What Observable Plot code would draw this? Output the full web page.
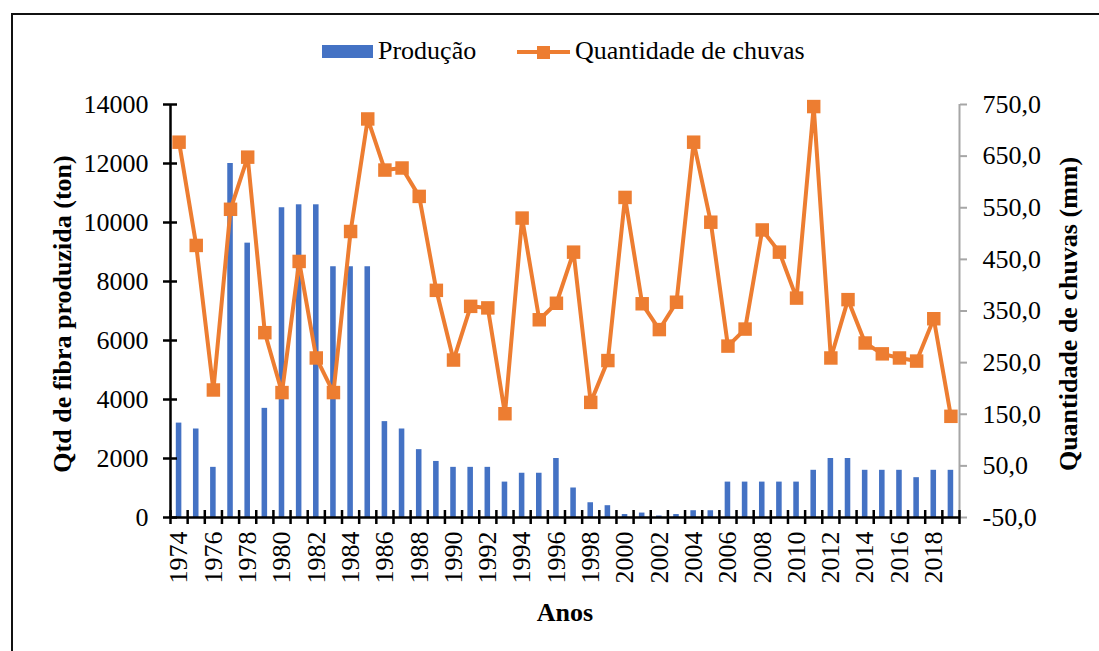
<!DOCTYPE html>
<html>
<head>
<meta charset="utf-8">
<script src="https://cdn.jsdelivr.net/npm/d3@7"></script>
<script src="https://cdn.jsdelivr.net/npm/@observablehq/plot@0.6"></script>
<style>
  html, body { margin: 0; padding: 0; background: #fff; overflow: hidden; }
  #wrap { position: relative; width: 1099px; height: 651px; font-family: "Liberation Serif", "Times New Roman", serif; }
  #frame { position: absolute; left: 11px; top: 13px; width: 1200px; height: 700px; border: 2px solid #111; box-sizing: border-box; }
  #chart { position: absolute; left: 0; top: 0; }
  #chart svg, #chart svg text { font-family: "Liberation Serif", "Times New Roman", serif !important; }
  .leg { position: absolute; font-size: 26px; line-height: 1; color: #000; white-space: nowrap; }
</style>
</head>
<body>
<div id="wrap">
  <div id="frame"></div>
  <div id="chart"></div>
  <div id="legend"></div>
</div>
<script>
const years = [1974,1975,1976,1977,1978,1979,1980,1981,1982,1983,1984,1985,1986,1987,1988,1989,1990,1991,1992,1993,1994,1995,1996,1997,1998,1999,2000,2001,2002,2003,2004,2005,2006,2007,2008,2009,2010,2011,2012,2013,2014,2015,2016,2017,2018,2019];
const producao = [3200,3000,1700,12000,9300,3700,10500,10600,10600,8500,8500,8500,3250,3000,2300,1900,1700,1700,1700,1200,1500,1500,2000,1000,500,400,100,150,50,100,230,230,1200,1200,1200,1200,1200,1600,2000,2000,1600,1600,1600,1350,1600,1600];
const chuvas = [677,477,197,547,648,308,192,446,259,192,504,722,623,627,572,390,255,359,356,151,530,333,365,464,173,254,570,364,314,367,677,522,282,315,507,464,375,746,259,372,288,267,259,253,335,146];
const yearLabels = [1974,1976,1978,1980,1982,1984,1986,1988,1990,1992,1994,1996,1998,2000,2002,2004,2006,2008,2010,2012,2014,2016,2018];
const prodTicks = [0,2000,4000,6000,8000,10000,12000,14000];
const rainTicks = [-50,50,150,250,350,450,550,650,750];
const prodDomain = [0, 14000];
const rainDomain = [-50, 750];
const seriesNames = ["Produção", "Quantidade de chuvas"];
const titles = {left: "Qtd de fibra produzida (ton)", right: "Quantidade de chuvas (mm)", x: "Anos"};

const blue = "#4472C4", orange = "#ED7D31";
const serif = '"Liberation Serif", "Times New Roman", serif';
const rainToProd = r => (r - rainDomain[0]) / (rainDomain[1] - rainDomain[0]) * (prodDomain[1] - prodDomain[0]) + prodDomain[0];
const prodToRain = v => (v - prodDomain[0]) / (prodDomain[1] - prodDomain[0]) * (rainDomain[1] - rainDomain[0]) + rainDomain[0];
const data = years.map((year, i) => ({year, producao: producao[i], chuva: chuvas[i]}));
const xStart = years[0] - 0.5, xEnd = years[years.length - 1] + 0.5;
const boundaries = years.map(y => y - 0.5).concat([xEnd]);
const fmtRain = v => v.toFixed(1).replace(".", ",");

const chart = Plot.plot({
  width: 1099,
  height: 651,
  marginLeft: 170,
  marginRight: 140,
  marginTop: 104,
  marginBottom: 134,
  style: {fontFamily: serif, fontSize: "26px", background: "transparent", color: "#000"},
  x: {type: "linear", domain: [xStart, xEnd], axis: null},
  y: {type: "linear", domain: prodDomain, axis: null},
  marks: [
    Plot.rectY(data, {x1: d => d.year - 0.5, x2: d => d.year + 0.5, y1: 0, y2: "producao", fill: blue, insetLeft: 5.8, insetRight: 5.8}),
    // left axis
    Plot.ruleX([xStart], {stroke: "#000", strokeWidth: 2.5, y1: prodDomain[0], y2: prodDomain[1]}),
    Plot.ruleY(prodTicks, {y: d => d, x1: xStart, x2: xStart, insetLeft: -7, insetRight: -7, stroke: "#000", strokeWidth: 2.5}),
    Plot.axisY(prodTicks, {anchor: "left", label: null, tickSize: 0, tickPadding: 22, fontSize: 26, fontFamily: serif, fill: "#000", tickFormat: d => String(d)}),
    // right axis
    Plot.ruleX([xEnd], {stroke: "#a6a6a6", strokeWidth: 2, y1: prodDomain[0], y2: prodDomain[1]}),
    Plot.axisY(rainTicks.map(rainToProd), {anchor: "right", label: null, tickSize: 7, tickPadding: 16, stroke: "#a6a6a6", strokeWidth: 2, fill: "#000", fontSize: 26, fontFamily: serif, tickFormat: v => fmtRain(prodToRain(v))}),
    // x axis
    Plot.ruleY([0], {stroke: "#000", strokeWidth: 2.5, x1: xStart, x2: xEnd}),
    Plot.ruleX(boundaries, {x: d => d, y1: 0, y2: 0, insetTop: -7, insetBottom: -7, stroke: "#000", strokeWidth: 2.5}),
    Plot.text(yearLabels, {x: d => d, y: 0, text: d => String(d), rotate: -90, textAnchor: "end", lineAnchor: "middle", dy: 14, fontSize: 26, fontFamily: serif, fill: "#000"}),
    // rainfall series
    Plot.line(data, {x: "year", y: d => rainToProd(d.chuva), stroke: orange, strokeWidth: 4}),
    Plot.dot(data, {x: "year", y: d => rainToProd(d.chuva), symbol: "square", r: 7.6, fill: orange, stroke: "none"}),
    // titles
    Plot.text([titles.left], {frameAnchor: "left", text: d => d, rotate: -90, dx: -108, dy: 3, textAnchor: "middle", lineAnchor: "middle", fontWeight: "bold", fontSize: 26, fontFamily: serif, fill: "#000"}),
    Plot.text([titles.right], {frameAnchor: "right", text: d => d, rotate: -90, dx: 109, dy: 3, textAnchor: "middle", lineAnchor: "middle", fontWeight: "bold", fontSize: 26, fontFamily: serif, fill: "#000"}),
    Plot.text([titles.x], {frameAnchor: "bottom", text: d => d, dy: 95, textAnchor: "middle", lineAnchor: "middle", fontWeight: "bold", fontSize: 26, fontFamily: serif, fill: "#000"})
  ]
});
document.getElementById("chart").appendChild(chart);

// legend
const legend = document.getElementById("legend");
legend.innerHTML = `
  <div style="position:absolute;left:322px;top:45px;width:51px;height:13px;background:${blue}"></div>
  <div class="leg" style="left:378px;top:38px">${seriesNames[0]}</div>
  <div style="position:absolute;left:517px;top:50px;width:53px;height:4px;background:${orange}"></div>
  <div style="position:absolute;left:537px;top:46px;width:13px;height:13px;background:${orange}"></div>
  <div class="leg" style="left:575px;top:38px">${seriesNames[1]}</div>
`;
</script>
</body>
</html>
